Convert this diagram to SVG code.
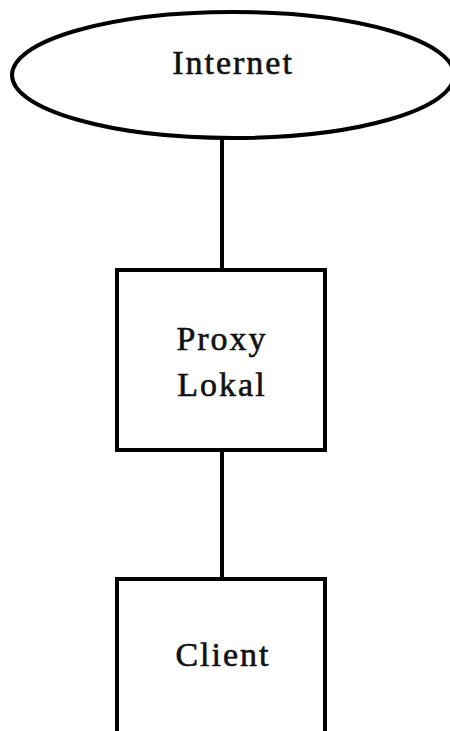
<svg xmlns="http://www.w3.org/2000/svg" width="450" height="731" viewBox="0 0 450 731">
<style>
.shape{fill:#fff;stroke:#000;stroke-width:4}
.conn{stroke:#000;stroke-width:4;fill:none}
.lbl{font-family:"Liberation Serif","Times New Roman",serif;font-size:34px;letter-spacing:2px;fill:#111;stroke:#111;stroke-width:0.6;text-anchor:middle}
</style>
<rect width="450" height="731" fill="#fff"/>
<g id="connectors">
<line class="conn" x1="222" y1="138" x2="222" y2="270"/>
<line class="conn" x1="222" y1="450" x2="222" y2="579"/>
</g>
<g id="internet">
<ellipse class="shape" cx="233" cy="75" rx="221" ry="63"/>
<text class="lbl" x="233" y="74">Internet</text>
</g>
<g id="proxy">
<rect class="shape" x="117" y="270" width="208" height="180"/>
<text class="lbl" x="222" y="350">Proxy</text>
<text class="lbl" x="222" y="396">Lokal</text>
</g>
<g id="client">
<rect class="shape" x="117" y="579" width="208" height="200"/>
<text class="lbl" x="223" y="666">Client</text>
</g>
</svg>
